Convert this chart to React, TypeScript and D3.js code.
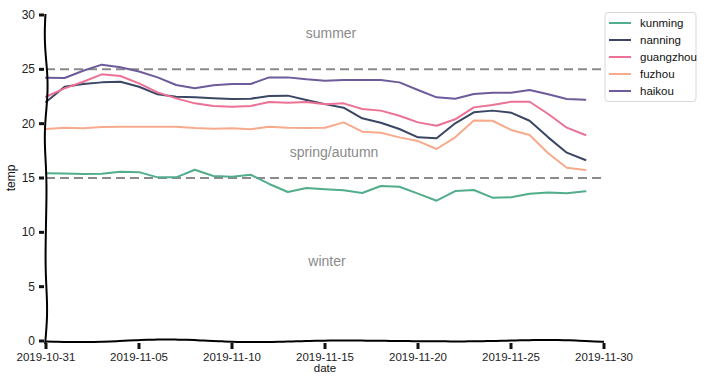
import React from "react";
import * as d3 from "d3";

const startDate = "2019-10-31";
const dayCount = 30;
const seriesNames = ["kunming", "nanning", "guangzhou", "fuzhou", "haikou"];
const seriesColors = ["#52ad8a", "#3b4664", "#ec7194", "#f7ab8c", "#6d5b9b"];

const kunming = [15.43, 15.42, 15.36, 15.39, 15.58, 15.54, 15.06, 15.06, 15.76, 15.18, 15.12, 15.3, 14.45, 13.71, 14.08, 13.97, 13.87, 13.62, 14.26, 14.2, 13.56, 12.91, 13.8, 13.9, 13.19, 13.22, 13.56, 13.67, 13.59, 13.77];
const nanning = [22.0, 23.4, 23.65, 23.8, 23.86, 23.4, 22.7, 22.48, 22.42, 22.33, 22.27, 22.3, 22.55, 22.58, 22.18, 21.8, 21.47, 20.49, 20.09, 19.51, 18.74, 18.65, 20.03, 21.04, 21.2, 21.01, 20.27, 18.74, 17.33, 16.66];
const guangzhou = [22.48, 23.25, 23.86, 24.54, 24.39, 23.71, 22.88, 22.33, 21.87, 21.62, 21.56, 21.62, 21.99, 21.93, 21.99, 21.78, 21.87, 21.35, 21.2, 20.73, 20.12, 19.81, 20.4, 21.5, 21.72, 22.02, 22.02, 20.89, 19.63, 18.96];
const fuzhou = [19.51, 19.63, 19.57, 19.69, 19.72, 19.72, 19.72, 19.72, 19.6, 19.54, 19.57, 19.48, 19.72, 19.63, 19.6, 19.62, 20.12, 19.26, 19.17, 18.74, 18.4, 17.67, 18.74, 20.3, 20.27, 19.42, 18.96, 17.27, 15.95, 15.74];
const haikou = [24.23, 24.2, 24.87, 25.43, 25.2, 24.8, 24.26, 23.56, 23.25, 23.53, 23.65, 23.65, 24.26, 24.26, 24.08, 23.96, 24.02, 24.02, 24.02, 23.8, 23.1, 22.42, 22.3, 22.73, 22.85, 22.85, 23.1, 22.7, 22.27, 22.2];
const seriesValues = [kunming, nanning, guangzhou, fuzhou, haikou];

const xTickLabels = ["2019-10-31", "2019-11-05", "2019-11-10", "2019-11-15", "2019-11-20", "2019-11-25", "2019-11-30"];
const yTicks = [0, 5, 10, 15, 20, 25, 30];
const thresholds = [25, 15];
const annotations = [
  { text: "summer", value: 27.9, x: "2019-11-15", dx: 6 },
  { text: "spring/autumn", value: 16.95, x: "2019-11-15", dx: 9 },
  { text: "winter", value: 6.9, x: "2019-11-15", dx: 2 },
];

const parse = d3.utcParse("%Y-%m-%d");
const fmt = d3.utcFormat("%Y-%m-%d");

function wobble(x0: number, y0: number, x1: number, y1: number, amp: number, waves: number) {
  const n = 60;
  const pts: [number, number][] = [];
  const len = Math.hypot(x1 - x0, y1 - y0);
  const nx = -(y1 - y0) / len;
  const ny = (x1 - x0) / len;
  for (let i = 0; i <= n; i++) {
    const t = i / n;
    const off = amp * Math.sin(t * Math.PI * 2 * waves + 0.6) * (0.6 + 0.4 * Math.sin(t * 7.3));
    pts.push([x0 + (x1 - x0) * t + nx * off, y0 + (y1 - y0) * t + ny * off]);
  }
  return d3.line().curve(d3.curveBasis)(pts) as string;
}

export default function App() {
  const W = 704, H = 376;
  const left = 46, right = 604, top = 15, bottom = 341;
  const start = parse(startDate)!;
  const dates = d3.range(dayCount).map((i) => d3.utcDay.offset(start, i));
  const x = d3.scaleUtc().domain([start, parse(xTickLabels[xTickLabels.length - 1])!]).range([left, right]);
  const y = d3.scaleLinear().domain([0, 30]).range([bottom, top]);
  const line = d3
    .line<number>()
    .x((_, i) => x(dates[i]))
    .y((v) => y(v))
    .curve(d3.curveLinear);

  const tickFont = "'Liberation Sans', Arial, sans-serif";

  return (
    <svg width={W} height={H} style={{ position: "absolute", left: 0, top: 0, background: "#fff" }}>
      {thresholds.map((t) => (
        <line key={t} x1={left} x2={right} y1={y(t)} y2={y(t)} stroke="#8a8a8a" strokeWidth={2} strokeDasharray="9 5" />
      ))}
      {annotations.map((a) => (
        <text key={a.text} x={x(parse(a.x)!) + a.dx} y={y(a.value)} textAnchor="middle" fontFamily={tickFont} fontSize={14} fill="#8a8a8a">
          {a.text}
        </text>
      ))}
      {seriesValues.map((vals, k) => (
        <path key={seriesNames[k]} d={line(vals) as string} fill="none" stroke={seriesColors[k]} strokeWidth={2} strokeLinejoin="round" strokeLinecap="round" />
      ))}
      <path d={wobble(left, top - 1, left, bottom + 3, 1.6, 3)} fill="none" stroke="#000" strokeWidth={2} />
      <path d={wobble(left - 1, bottom, right, bottom, 1.5, 3)} fill="none" stroke="#000" strokeWidth={2} />
      {yTicks.map((t) => (
        <g key={t}>
          <line x1={39} x2={44} y1={y(t)} y2={y(t)} stroke="#111" strokeWidth={3} />
          <text x={35} y={y(t) + 4} textAnchor="end" fontFamily={tickFont} fontSize={12} fill="#222">
            {t}
          </text>
        </g>
      ))}
      {xTickLabels.map((lab) => {
        const px = x(parse(lab)!);
        return (
          <g key={lab}>
            <line x1={px} x2={px} y1={343} y2={349} stroke="#111" strokeWidth={3} />
            <text x={px} y={361} textAnchor="middle" fontFamily={tickFont} fontSize={11.5} fill="#222">
              {fmt(parse(lab)!)}
            </text>
          </g>
        );
      })}
      <text transform={`translate(15,178) rotate(-90)`} textAnchor="middle" fontFamily={tickFont} fontSize={12} fill="#111">
        temp
      </text>
      <text x={325} y={372} textAnchor="middle" fontFamily={tickFont} fontSize={11.5} fill="#111">
        date
      </text>
      <rect x={605} y={12.5} width={91} height={89} rx={3} fill="#fff" stroke="#d8d8d8" strokeWidth={1} />
      {seriesNames.map((n, k) => {
        const ry = 23 + k * 17;
        return (
          <g key={n}>
            <line x1={609} x2={631} y1={ry} y2={ry} stroke={seriesColors[k]} strokeWidth={2} />
            <text x={640} y={ry + 4} fontFamily={tickFont} fontSize={11.5} fill="#111">
              {n}
            </text>
          </g>
        );
      })}
    </svg>
  );
}
